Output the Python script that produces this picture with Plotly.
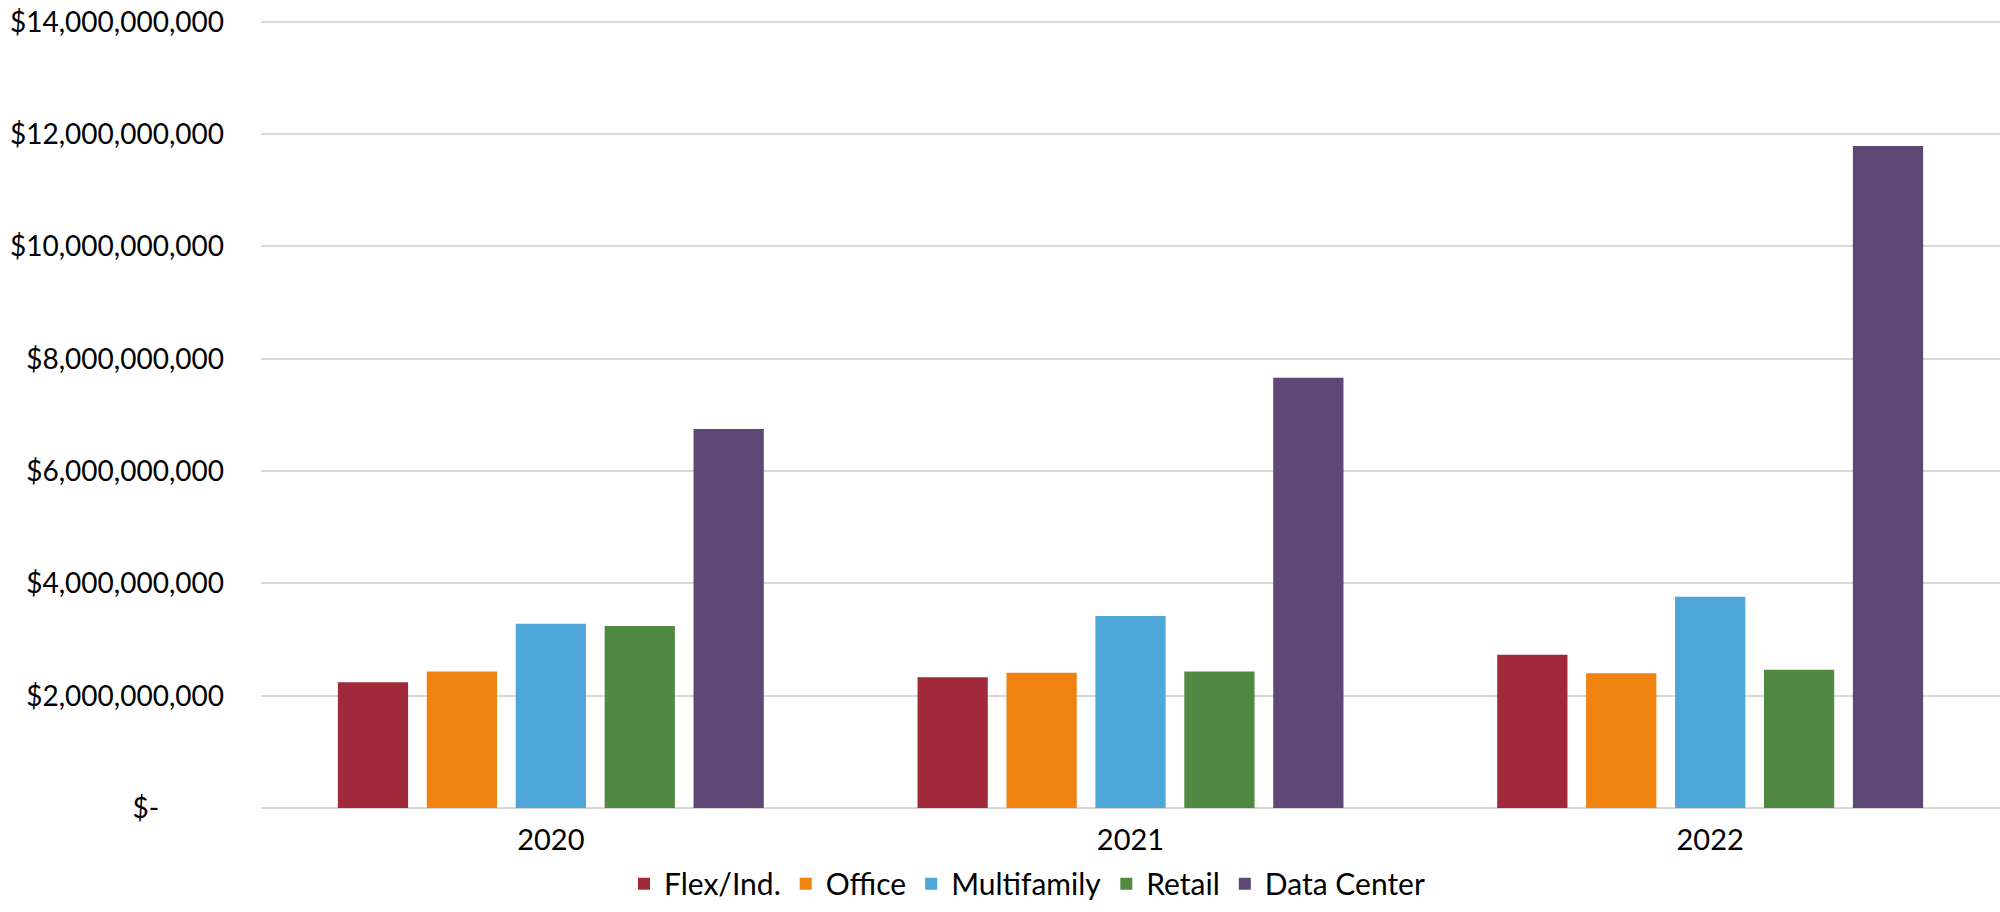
import plotly.graph_objects as go

years = ["2020", "2021", "2022"]
series_names = ["Flex/Ind.", "Office", "Multifamily", "Retail", "Data Center"]
flex = [2.24e9, 2.33e9, 2.73e9]
office = [2.43e9, 2.41e9, 2.40e9]
multifamily = [3.28e9, 3.42e9, 3.76e9]
retail = [3.24e9, 2.43e9, 2.46e9]
data_center = [6.75e9, 7.66e9, 11.79e9]
colors = ["#A12A3A", "#F0820F", "#4FA6D9", "#518842", "#5E4875"]

tick_vals = [0, 2e9, 4e9, 6e9, 8e9, 10e9, 12e9, 14e9]
tick_text = ["$-" + "\u2007" * 4, "$2,000,000,000", "$4,000,000,000", "$6,000,000,000",
             "$8,000,000,000", "$10,000,000,000", "$12,000,000,000", "$14,000,000,000"]

FONT = "Lato, 'Open Sans', sans-serif"

fig = go.Figure()
for name, vals, col in zip(series_names, [flex, office, multifamily, retail, data_center], colors):
    fig.add_trace(go.Bar(name=name, x=years, y=vals, marker=dict(color=col, line=dict(width=0))))

fig.update_layout(
    width=2000, height=912,
    paper_bgcolor="white", plot_bgcolor="white",
    barmode="group", bargap=0.233, bargroupgap=0.21,
    margin=dict(l=261, r=0, t=19, b=104, autoexpand=False),
    font=dict(family=FONT, size=28, color="#000000"),
    showlegend=True,
    legend=dict(orientation="h", xref="container", yref="container",
                x=0.5135, y=0.031, xanchor="center", yanchor="middle",
                font=dict(family=FONT, size=30, color="#000000"),
                itemwidth=30, traceorder="normal"),
)
fig.update_yaxes(range=[0, 14.05e9], tickvals=tick_vals, ticktext=tick_text,
                 showgrid=True, gridcolor="#D9D9D9", gridwidth=2,
                 zeroline=True, zerolinecolor="#D9D9D9", zerolinewidth=2,
                 showline=False, ticks="", ticklabelstandoff=36, automargin=False,
                 tickfont=dict(family=FONT, size=28, color="#000000"))
fig.update_xaxes(showline=False, ticks="", showgrid=False, automargin=False,
                 tickfont=dict(family=FONT, size=29, color="#000000"),
                 ticklabelstandoff=12)

fig.write_html("out.html", post_script="document.body.style.margin='0';",
               config={"displayModeBar": False})
